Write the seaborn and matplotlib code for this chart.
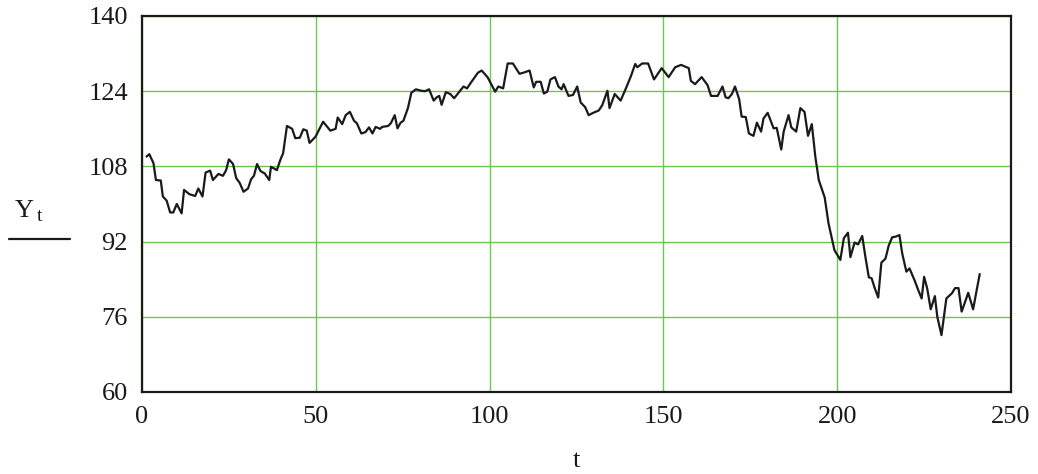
import matplotlib
matplotlib.use("Agg")
import matplotlib.pyplot as plt
import seaborn as sns
import pandas as pd
from matplotlib.lines import Line2D

# vertices
t_vals = [1.3, 2.1, 3.3, 4.0, 5.4, 6.0, 7.1, 8.1, 9.0, 10.0, 11.4, 12.1, 13.6, 15.3, 16.2,
          17.4, 18.3, 19.6, 20.4, 22.0, 23.3, 24.2, 25.0, 26.2, 27.1, 28.1, 29.2, 30.5,
          31.4, 32.2, 33.1, 34.1, 35.3, 36.6, 37.1, 37.9, 38.8, 39.8, 40.6, 41.7, 43.2,
          44.1, 45.4, 46.4, 47.4, 48.2, 49.9, 52.1, 54.2, 55.7, 56.3, 57.6, 58.6, 59.8,
          61.0, 61.8, 63.1, 64.3, 65.3, 66.3, 67.2, 68.5, 69.1, 70.8, 71.6, 72.7, 73.5,
          74.4, 75.2, 76.5, 77.5, 78.8, 80.3, 81.4, 82.6, 83.9, 84.8, 85.5, 86.2, 87.4,
          88.7, 89.8, 91.3, 92.5, 93.5, 94.6, 96.6, 97.7, 99.4, 101.6, 102.5, 103.9,
          105.2, 106.7, 108.6, 110.0, 111.5, 112.7, 113.4, 114.7, 115.6, 116.6, 117.5,
          118.8, 119.8, 120.7, 121.3, 122.7, 124.0, 125.2, 126.2, 127.5, 128.5, 129.8,
          131.4, 132.4, 133.9, 134.5, 136.0, 137.7, 139.1, 140.6, 141.9, 142.5, 143.9,
          145.6, 147.3, 149.5, 151.5, 153.4, 155.1, 157.3, 157.9, 159.1, 161.0, 162.7,
          163.7, 165.6, 167.0, 167.9, 168.7, 169.7, 170.6, 171.8, 172.5, 173.7, 174.6,
          175.9, 176.9, 178.1, 178.8, 180.0, 181.7, 182.6, 183.9, 184.6, 186.0, 186.8,
          188.2, 189.4, 190.6, 191.6, 192.7, 193.7, 194.7, 196.4, 197.5, 199.2, 200.9,
          201.9, 203.1, 203.8, 205.0, 206.0, 207.2, 208.1, 209.1, 209.9, 210.8, 211.8,
          212.7, 213.9, 214.8, 215.8, 217.0, 217.9, 218.7, 219.9, 220.8, 222.4, 223.3,
          224.3, 225.0, 225.9, 226.9, 228.1, 228.8, 230.0, 231.4, 233.0, 233.9, 234.9,
          235.8, 237.7, 239.1, 241.0]
y_vals = [110.1, 110.6, 108.7, 105.1, 105.0, 101.6, 100.7, 98.2, 98.2, 100.0, 98.0, 103.0,
          102.1, 101.7, 103.3, 101.6, 106.7, 107.1, 105.1, 106.4, 106.0, 107.2, 109.5,
          108.5, 105.5, 104.5, 102.6, 103.3, 105.3, 106.0, 108.5, 107.0, 106.5, 105.1,
          107.9, 107.6, 107.2, 109.4, 110.8, 116.6, 116.0, 114.0, 114.1, 115.9, 115.6,
          113.0, 114.3, 117.5, 115.6, 116.0, 118.4, 117.0, 118.9, 119.6, 117.7, 117.2,
          115.0, 115.3, 116.3, 115.0, 116.4, 116.0, 116.4, 116.6, 117.2, 118.9, 116.1,
          117.3, 117.7, 120.4, 123.7, 124.4, 124.1, 124.0, 124.4, 122.0, 122.7, 123.0,
          121.1, 123.8, 123.4, 122.5, 123.9, 125.0, 124.6, 125.8, 127.9, 128.4, 127.0,
          123.9, 125.0, 124.6, 129.9, 129.9, 127.7, 128.0, 128.4, 124.8, 126.0, 126.0,
          123.5, 123.9, 126.5, 127.0, 125.0, 124.4, 125.5, 123.0, 123.2, 125.0, 121.6,
          120.6, 118.9, 119.4, 119.9, 121.0, 124.1, 120.4, 123.4, 122.0, 124.4, 127.1,
          129.8, 129.1, 129.9, 129.9, 126.5, 128.9, 127.0, 129.1, 129.6, 128.9, 126.2,
          125.5, 127.0, 125.3, 123.0, 123.0, 125.0, 122.7, 122.5, 123.4, 125.0, 122.3,
          118.6, 118.5, 115.0, 114.5, 117.3, 115.4, 118.2, 119.4, 116.1, 116.2, 111.6,
          115.4, 118.9, 116.3, 115.4, 120.4, 119.6, 114.5, 117.0, 110.1, 105.1, 101.4,
          95.9, 90.2, 88.1, 92.7, 93.9, 88.7, 91.8, 91.4, 93.2, 88.8, 84.4, 84.2, 82.1,
          80.1, 87.5, 88.4, 91.1, 92.9, 93.1, 93.4, 89.5, 85.6, 86.3, 83.5, 81.7, 79.9,
          84.5, 82.0, 77.6, 80.4, 76.0, 72.1, 79.9, 81.0, 82.1, 82.1, 77.1, 81.1, 77.6,
          85.1]

x_ticks = [0, 50, 100, 150, 200, 250]
y_ticks = [60, 76, 92, 108, 124, 140]

sns.set_style("white")
plt.rcParams['font.family'] = ['Liberation Serif', 'DejaVu Serif']

df = pd.DataFrame({"t": t_vals, "Y": y_vals})

fig = plt.figure(figsize=(10.38, 4.74), dpi=100)
ax = fig.add_axes([142/1038, 1-392/474, (1011-142)/1038, (392-16)/474])

ax.set_xlim(0, 250)
ax.set_ylim(60, 140)
ax.set_xticks(x_ticks)
ax.set_yticks(y_ticks)
ax.grid(True, color='#6cc84c', linewidth=1.0)
ax.set_axisbelow(True)

sns.lineplot(data=df, x="t", y="Y", ax=ax, color='#1a1a1a', linewidth=1.6, sort=False, zorder=3)

for s in ax.spines.values():
    s.set_color('#1a1a1a')
    s.set_linewidth(1.6)
    s.set_visible(True)

ax.tick_params(axis='both', length=0, labelsize=19, colors='#1a1a1a')
ax.tick_params(axis='x', pad=10)
ax.tick_params(axis='y', pad=10)
ax.set_xlabel("t", fontsize=19, labelpad=16, color='#1a1a1a')
ax.set_ylabel("")

# Y_t label with line sample
fig.text(15/1038, 1-217/474, "Y", fontsize=19, color='#1a1a1a', ha='left', va='baseline')
fig.text(37/1038, 1-221/474, "t", fontsize=14, color='#1a1a1a', ha='left', va='baseline')
fig.add_artist(Line2D([9/1038, 70/1038], [1-239/474, 1-239/474], color='#1a1a1a',
                      linewidth=1.6, transform=fig.transFigure))

fig.savefig("out.png", dpi=100)
